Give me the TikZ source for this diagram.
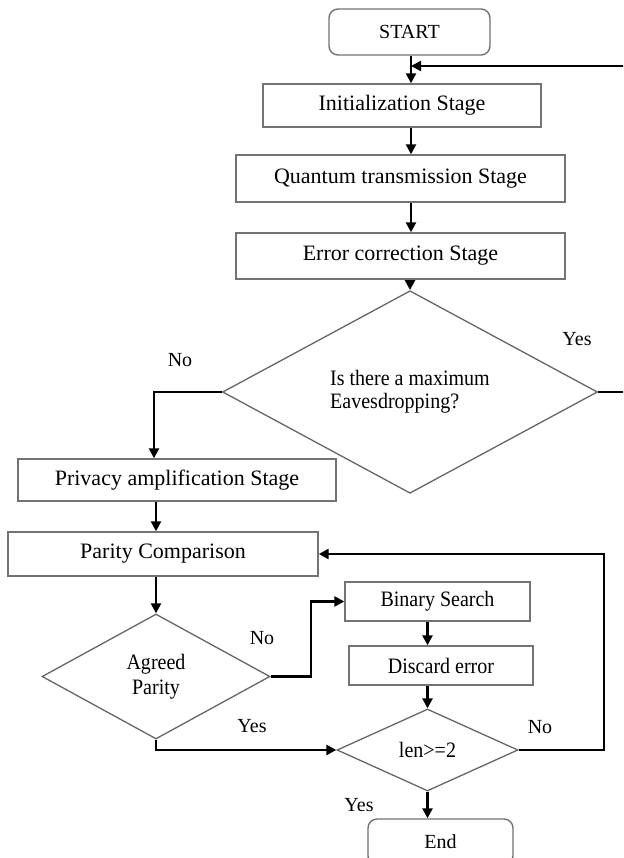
\documentclass[tikz,border=0pt]{standalone}
\usepackage{fontspec}
\setmainfont{Liberation Serif}
\newfontfamily\condfont[FakeStretch=0.91]{Liberation Serif}
\usetikzlibrary{shapes.geometric,arrows.meta,calc}
\begin{document}
\begin{tikzpicture}[x=1pt,y=-1pt,
  box/.style={draw=black!55, line width=1.4pt, rectangle, inner sep=0pt, font=\fontsize{22}{25}\selectfont},
  term/.style={box, rounded corners=9pt, font=\fontsize{20}{24}\selectfont},
  dec/.style={draw=black!60, line width=1.3pt, diamond, inner sep=0pt, align=center, font=\condfont\fontsize{22}{25}\selectfont},
  sbox/.style={box, font=\condfont\fontsize{22}{25}\selectfont},
  arr/.style={draw=black, line width=2.4pt, -{Triangle[length=10pt,width=10pt]}},
  lbl/.style={font=\fontsize{20}{24}\selectfont, inner sep=0pt},
]
\useasboundingbox (0,0) rectangle (623,858);
\clip (0,0) rectangle (623,858);
\fill[white] (0,0) rectangle (623,858);

% nodes
\node[term, minimum width=161pt, minimum height=46pt] (start) at (409.5,32) {START};
\node[box, minimum width=278pt, minimum height=43pt] (init) at (402,105.5) {Initialization Stage};
\node[box, minimum width=329pt, minimum height=47pt] (quant) at (400.5,178.5) {Quantum transmission Stage};
\node[box, minimum width=329pt, minimum height=46pt] (err) at (400.5,256) {Error correction Stage};
\node[dec, align=left, minimum width=375pt, minimum height=158pt, font=\condfont\fontsize{22}{23}\selectfont] (d1) at (410,392) {Is there a maximum\\Eavesdropping?};
\node[box, minimum width=318pt, minimum height=42pt] (priv) at (177,480) {Privacy amplification Stage};
\node[box, minimum width=310pt, minimum height=44pt] (par) at (163,554) {Parity Comparison};
\node[dec, minimum width=228pt, minimum height=125pt] (agr) at (156,676.5) {Agreed\\Parity};
\node[sbox, minimum width=185pt, minimum height=39pt] (bin) at (437.5,601.5) {Binary Search};
\node[sbox, minimum width=184pt, minimum height=39pt] (disc) at (441,665.5) {Discard error};
\node[dec, minimum width=181pt, minimum height=82pt] (len) at (427.5,750) {len>=2};
\node[term, minimum width=145pt, minimum height=46pt] (end) at (440.5,842) {End};

% helper coordinates
\coordinate (ax) at (411,0);
\coordinate (top) at (411,66);
\coordinate (rx) at (632,0);
\coordinate (nx) at (154,0);
\coordinate (jx) at (311,0);
\coordinate (rx2) at (604,0);

% connectors
\draw[arr] (start.south -| ax) -- (init.north -| ax);
\draw[arr] (init.south -| ax) -- (quant.north -| ax);
\draw[arr] (quant.south -| ax) -- (err.north -| ax);
\draw[arr] (err.south -| d1.north) -- (d1.north);
\draw[arr] (d1.east) -- (d1.east -| rx) -- (rx |- top) -- (top);
\draw[arr] (d1.west) -| (priv.north -| nx);
\draw[arr] (priv.south -| agr.north) -- (par.north -| agr.north);
\draw[arr] (par.south -| agr.north) -- (agr.north);
\draw[arr] (agr.east) -- (agr.east -| jx) |- (bin.west);
\draw[arr] (bin.south -| len.north) -- (disc.north -| len.north);
\draw[arr] (disc.south -| len.north) -- (len.north);
\draw[arr] (agr.south) |- (len.west);
\draw[arr] (len.east) -- (len.east -| rx2) |- (par.east);
\draw[arr] (len.south) -- (end.north -| len.south);

% labels
\node[lbl] (y1) at (577,339) {Yes};
\node[lbl] (n1) at (180,360) {No};
\node[lbl] (n2) at (262,638) {No};
\node[lbl] (y2) at (252,726) {Yes};
\node[lbl] (n3) at (540,727) {No};
\node[lbl] (y3) at (359,805) {Yes};
\end{tikzpicture}
\end{document}
